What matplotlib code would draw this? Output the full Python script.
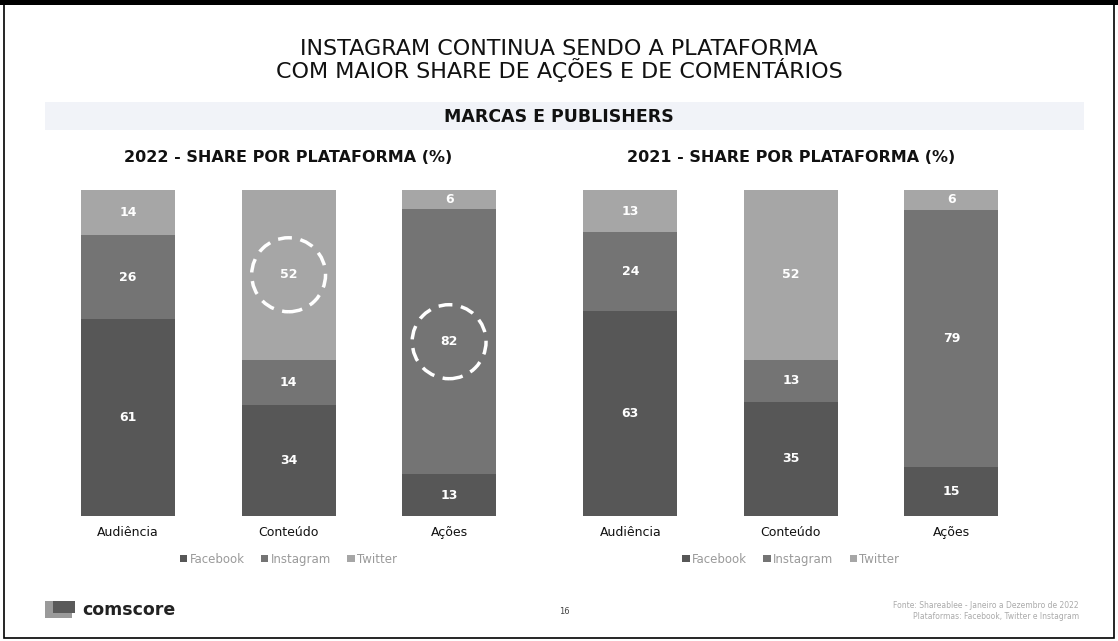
import matplotlib.pyplot as plt
import matplotlib.patches as mpatches
import numpy as np

categories = ['Audiência', 'Conteúdo', 'Ações']
series = ['Facebook', 'Instagram', 'Twitter']
colors = ['#575757', '#747474', '#a6a6a6']

# values per category: Facebook, Instagram, Twitter
share_2022 = {
    'Facebook': [61, 34, 13],
    'Instagram': [26, 14, 82],
    'Twitter': [14, 52, 6],
}
share_2021 = {
    'Facebook': [63, 35, 15],
    'Instagram': [24, 13, 79],
    'Twitter': [13, 52, 6],
}
highlight_2022 = [('Twitter', 1), ('Instagram', 2)]

fig = plt.figure(figsize=(11.18, 6.41), dpi=100)
fig.patch.set_facecolor('white')

# page frame
fig.add_artist(mpatches.Rectangle((0.004, 0.004), 0.992, 0.99, transform=fig.transFigure,
                                  fill=False, edgecolor='black', lw=1.2))
fig.add_artist(mpatches.Rectangle((0, 0.992), 1, 0.008, transform=fig.transFigure,
                                  color='black', lw=0))

# light band behind subtitle
fig.add_artist(mpatches.Rectangle((0.04, 0.797), 0.93, 0.044, transform=fig.transFigure,
                                  color='#f1f3f8', lw=0, zorder=0))

fig.text(0.5, 0.906, 'INSTAGRAM CONTINUA SENDO A PLATAFORMA\nCOM MAIOR SHARE DE AÇÕES E DE COMENTÁRIOS',
         ha='center', va='center', fontsize=16, linespacing=0.95, color='#111111')
fig.text(0.5, 0.817, 'MARCAS E PUBLISHERS', ha='center', va='center',
         fontsize=12.5, fontweight='bold', color='#111111')


def draw_panel(ax, data, title, circles=()):
    x = np.arange(len(categories))
    totals = np.sum([data[s] for s in series], axis=0)
    bottom = np.zeros(len(categories))
    mids = {}
    for s, c in zip(series, colors):
        vals = np.array(data[s], dtype=float)
        h = vals / totals * 100
        ax.bar(x, h, bottom=bottom, width=0.585, color=c, edgecolor='none', label=s)
        for i in range(len(categories)):
            mid = bottom[i] + h[i] / 2
            mids[(s, i)] = mid
            ax.text(x[i], mid, str(data[s][i]), ha='center', va='center',
                    color='white', fontsize=9, fontweight='bold')
        bottom += h
    for s, i in circles:
        ax.add_patch(mpatches.Ellipse((x[i], mids[(s, i)]), 0.46, 22.7, fill=False,
                                      edgecolor='white', lw=2.5, linestyle=(0, (4, 2.5))))
    ax.set_xlim(-0.5, 2.5)
    ax.set_ylim(0, 100)
    ax.set_xticks(x)
    ax.set_xticklabels(categories, fontsize=9, color='#111111')
    ax.tick_params(axis='x', length=0, pad=7)
    ax.set_yticks([])
    for sp in ax.spines.values():
        sp.set_visible(False)
    ax.set_title(title, fontsize=11.5, fontweight='bold', pad=20, color='#111111')
    leg = ax.legend(loc='upper center', bbox_to_anchor=(0.5, -0.08), ncol=3, frameon=False,
                    fontsize=8.5, handlelength=0.6, handleheight=0.6, handletextpad=0.2,
                    columnspacing=1.4)
    for t in leg.get_texts():
        t.set_color('#9a9a9a')


ax1 = fig.add_axes([0.0428, 0.195, 0.4307, 0.5086])
ax2 = fig.add_axes([0.4920, 0.195, 0.4307, 0.5086])
draw_panel(ax1, share_2022, '2022 - SHARE POR PLATAFORMA (%)', highlight_2022)
draw_panel(ax2, share_2021, '2021 - SHARE POR PLATAFORMA (%)')

# footer
fig.add_artist(mpatches.Rectangle((0.040, 0.036), 0.024, 0.026, transform=fig.transFigure,
                                  color='#9a9a9a', lw=0))
fig.add_artist(mpatches.Rectangle((0.047, 0.043), 0.020, 0.020, transform=fig.transFigure,
                                  color='#5a5a5a', lw=0))
fig.text(0.074, 0.049, 'comscore', ha='left', va='center', fontsize=12.5,
         fontweight='bold', color='#222222')
fig.text(0.505, 0.046, '16', ha='center', va='center', fontsize=6, color='#444444')
fig.text(0.965, 0.047, 'Fonte: Shareablee - Janeiro a Dezembro de 2022\nPlataformas: Facebook, Twitter e Instagram',
         ha='right', va='center', fontsize=5.5, color='#aaaaaa', linespacing=1.3)

fig.savefig('out.png', dpi=100)
